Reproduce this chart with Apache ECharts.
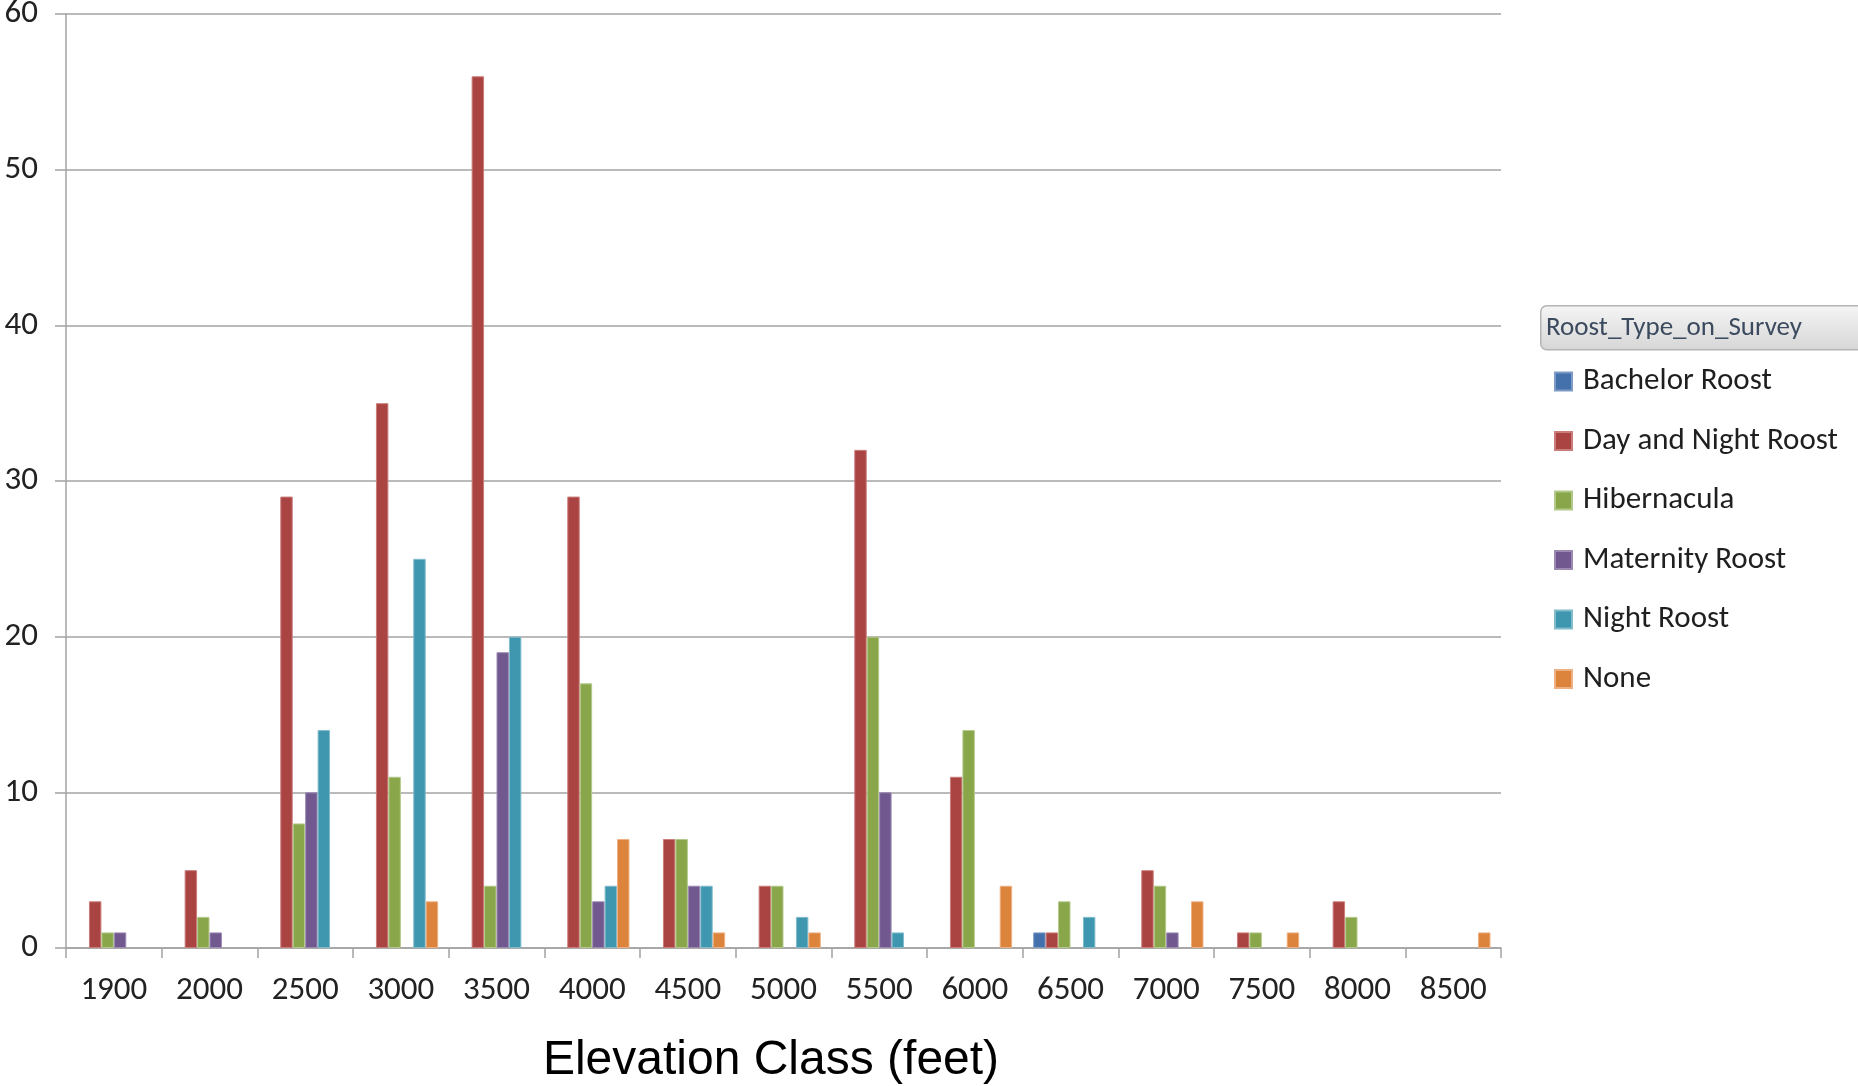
<!DOCTYPE html>
<html>
<head>
<meta charset="utf-8">
<title>Roost Type on Survey by Elevation Class</title>
<script src="https://cdn.jsdelivr.net/npm/echarts@6/dist/echarts.min.js"></script>
<style>
  html, body { margin: 0; padding: 0; background: #ffffff; }
  #chart { width: 1858px; height: 1086px; }
</style>
</head>
<body>
<div id="chart"></div>
<script>
// Elevation classes (feet) along the x axis
const elevationClasses = ['1900', '2000', '2500', '3000', '3500', '4000', '4500', '5000',
  '5500', '6000', '6500', '7000', '7500', '8000', '8500'];

// Count of surveys per roost type in each elevation class (null = no bar)
const bachelorRoost   = [null, null, null, null, null, null, null, null, null, null, 1, null, null, null, null];
const dayAndNight     = [3, 5, 29, 35, 56, 29, 7, 4, 32, 11, 1, 5, 1, 3, null];
const hibernacula     = [1, 2, 8, 11, 4, 17, 7, 4, 20, 14, 3, 4, 1, 2, null];
const maternityRoost  = [1, 1, 10, null, 19, 3, 4, null, 10, null, null, 1, null, null, null];
const nightRoost      = [null, null, 14, 25, 20, 4, 4, 2, 1, null, 2, null, null, null, null];
const noneType        = [null, null, null, 3, null, 7, 1, 1, null, 4, null, 3, 1, null, 1];

// Value axis ticks
const yTicks = [0, 10, 20, 30, 40, 50, 60];

const seriesNames = ['Bachelor Roost', 'Day and Night Roost', 'Hibernacula',
  'Maternity Roost', 'Night Roost', 'None'];
const seriesValues = [bachelorRoost, dayAndNight, hibernacula, maternityRoost, nightRoost, noneType];
const seriesColors = ['#4470ab', '#aa4443', '#89a64b', '#71588f', '#3f97af', '#dc843c'];
const seriesEdges  = ['#7d9bc6', '#cb7d7b', '#b3c98a', '#9c8ab3', '#82bccc', '#eeb083'];

const uiFont = 'Carlito, Lato, "Open Sans", sans-serif';
const axisGray = '#a3a3a3';

const chart = echarts.init(document.getElementById('chart'), null, { renderer: 'canvas' });

chart.setOption({
  backgroundColor: '#ffffff',
  animation: false,
  grid: { left: 66, right: 357, top: 14, bottom: 138, outerBoundsMode: 'none', containLabel: false },
  legend: {
    orient: 'vertical',
    left: 1554,
    top: 366,
    padding: 0,
    itemWidth: 17,
    itemHeight: 18,
    itemGap: 28.5,
    icon: 'rect',
    selectedMode: false,
    data: seriesNames,
    textStyle: {
      fontFamily: uiFont,
      fontSize: 31,
      color: '#1f1f1f',
      padding: [0, 0, 0, 6]
    }
  },
  graphic: [
    {
      type: 'rect',
      left: 1540,
      top: 305,
      shape: { width: 340, height: 44, r: 6 },
      style: {
        fill: new echarts.graphic.LinearGradient(0, 0, 0, 1, [
          { offset: 0, color: '#f5f5f5' },
          { offset: 1, color: '#d6d6d6' }
        ]),
        stroke: '#b4b4b4',
        lineWidth: 1.5
      },
      z: 10
    },
    {
      type: 'text',
      left: 1546,
      top: 315,
      style: {
        text: 'Roost_Type_on_Survey',
        font: '27px ' + uiFont,
        fill: '#3b4a5e'
      },
      z: 11
    }
  ],
  xAxis: {
    type: 'category',
    data: elevationClasses,
    boundaryGap: true,
    name: 'Elevation Class (feet)',
    nameLocation: 'middle',
    nameGap: 89,
    nameTextStyle: {
      fontFamily: '"Liberation Sans", Arial, sans-serif',
      fontSize: 48,
      color: '#000000',
      padding: [0, 25, 0, 0]
    },
    axisLine: { show: true, lineStyle: { color: axisGray, width: 1.5 } },
    axisTick: { show: true, length: 10, lineStyle: { color: axisGray, width: 1.5 } },
    axisLabel: {
      margin: 26,
      fontFamily: uiFont,
      fontSize: 33,
      color: '#222222'
    },
    splitLine: { show: false }
  },
  yAxis: {
    type: 'value',
    min: yTicks[0],
    max: yTicks[yTicks.length - 1],
    interval: yTicks[1] - yTicks[0],
    axisLine: { show: true, lineStyle: { color: axisGray, width: 1.5 } },
    axisTick: { show: true, length: 11, lineStyle: { color: axisGray, width: 1.5 } },
    axisLabel: {
      margin: 28,
      fontFamily: uiFont,
      fontSize: 33,
      color: '#222222'
    },
    splitLine: { show: true, lineStyle: { color: axisGray, width: 1.5 } }
  },
  series: seriesNames.map((name, i) => ({
    name: name,
    type: 'bar',
    data: seriesValues[i],
    barGap: '0%',
    barCategoryGap: '22%',
    itemStyle: {
      color: seriesColors[i],
      borderColor: seriesEdges[i],
      borderWidth: 1
    },
    emphasis: { disabled: true }
  }))
});
</script>
</body>
</html>
